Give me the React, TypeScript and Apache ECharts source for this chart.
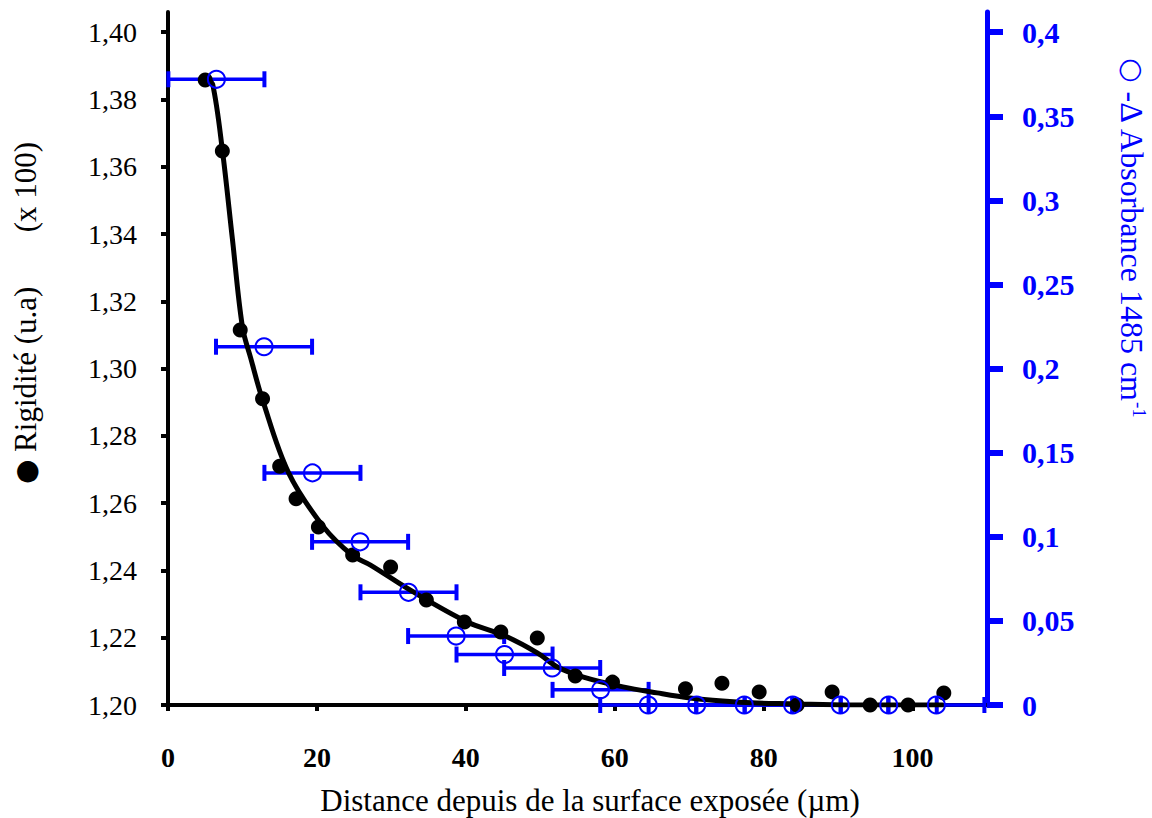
import React, { useEffect, useRef } from "react";
import * as echarts from "echarts";

// Rigidité (black dots), left axis
const rigX = [5.0, 7.3, 9.7, 12.7, 15.0, 17.2, 20.2, 24.8, 29.9, 34.7, 39.8, 44.7, 49.6, 54.7, 59.7, 69.5, 74.4, 79.4, 84.5, 89.2, 94.3, 99.4, 104.2];
const rigY = [1.3858, 1.3647, 1.3115, 1.291, 1.271, 1.2613, 1.2529, 1.2446, 1.241, 1.2312, 1.2247, 1.2217, 1.2199, 1.2086, 1.2068, 1.2048, 1.2065, 1.2039, 1.2, 1.2039, 1.2, 1.2, 1.2036];

// Fit curve (black line), left axis
const fitX = [5.3, 6.0, 7.3, 8.65, 10.0, 11.1, 12.7, 16.2, 20.9, 24.7, 27.2, 32.5, 40.2, 45.0, 49.6, 52.3, 55.8, 61.1, 65.7, 70.1, 74.5, 79.1, 83.5, 91.6, 104.0];
const fitY = [1.3858, 1.3845, 1.365, 1.3385, 1.3123, 1.3032, 1.2907, 1.269, 1.2529, 1.2446, 1.2416, 1.2342, 1.2247, 1.2208, 1.2155, 1.2113, 1.2083, 1.2054, 1.2036, 1.2021, 1.2012, 1.2006, 1.2004, 1.2, 1.2];

// -Δ Absorbance (blue open circles), right axis
const absX = [6.5, 12.9, 19.4, 25.8, 32.3, 38.7, 45.2, 51.6, 58.1, 64.5, 71.0, 77.4, 83.9, 90.3, 96.8, 103.2];
const absY = [0.372, 0.213, 0.138, 0.097, 0.067, 0.041, 0.030, 0.022, 0.009, 0, 0, 0, 0, 0, 0, 0];
const absXErr = [6.45, 6.45, 6.45, 6.45, 6.45, 6.45, 6.45, 6.45, 6.45, 6.45, 6.45, 6.45, 6.45, 6.45, 6.45, 6.45];

// Ticks
const xTicks = [0, 20, 40, 60, 80, 100];
const yLeftTicks = [1.2, 1.22, 1.24, 1.26, 1.28, 1.3, 1.32, 1.34, 1.36, 1.38, 1.4];
const yRightTicks = [0, 0.05, 0.1, 0.15, 0.2, 0.25, 0.3, 0.35, 0.4];

const BLUE = "#0000ff";
const FONT = "Liberation Serif";

export default function App() {
  const ref = useRef<HTMLDivElement>(null);
  useEffect(() => {
    document.body.style.margin = "0";
    const chart = echarts.init(ref.current!, null, { renderer: "svg" });
    const errData = absX.map((x, i) => [x, absY[i], Math.max(0, x - absXErr[i]), x + absXErr[i]]);
    chart.setOption({
      animation: false,
      backgroundColor: "#ffffff",
      grid: { left: 168, right: 165, top: 12, bottom: 113 },
      xAxis: {
        type: "value",
        min: 0,
        max: 110,
        splitLine: { show: false },
        axisLine: { onZero: false, lineStyle: { color: "#000", width: 4 } },
        axisTick: { customValues: xTicks, length: 6, lineStyle: { color: "#000", width: 4 } },
        axisLabel: {
          customValues: xTicks,
          margin: 38,
          color: "#000",
          fontFamily: FONT,
          fontWeight: "bold",
          fontSize: 28,
        },
      },
      yAxis: [
        {
          type: "value",
          position: "left",
          min: 1.2,
          max: 1.406,
          splitLine: { show: false },
          axisLine: { show: true, onZero: false, lineStyle: { color: "#000", width: 4 } },
          axisTick: { show: true, customValues: yLeftTicks, length: 7, lineStyle: { color: "#000", width: 4 } },
          axisLabel: {
            customValues: yLeftTicks,
            margin: 31,
            color: "#000",
            fontFamily: FONT,
            fontSize: 28,
            formatter: (v: number) => v.toFixed(2).replace(".", ","),
          },
        },
        {
          type: "value",
          position: "right",
          min: 0,
          max: 0.412,
          splitLine: { show: false },
          axisLine: { show: true, onZero: false, lineStyle: { color: BLUE, width: 5 } },
          axisTick: { show: true, customValues: yRightTicks, length: 16, lineStyle: { color: BLUE, width: 6 } },
          axisLabel: {
            customValues: yRightTicks,
            margin: 35,
            color: BLUE,
            fontFamily: FONT,
            fontWeight: "bold",
            fontSize: 30,
            formatter: (v: number) => String(Math.round(v * 100) / 100).replace(".", ","),
          },
        },
      ],
      series: [
        {
          type: "custom",
          xAxisIndex: 0,
          yAxisIndex: 1,
          data: errData,
          z: 2,
          silent: true,
          renderItem: (params: any, api: any) => {
            const y = api.value(1);
            const p1 = api.coord([api.value(2), y]);
            const p2 = api.coord([api.value(3), y]);
            const h = 8;
            const style = { stroke: BLUE, lineWidth: 3.5 };
            const capStyle = { stroke: BLUE, lineWidth: 4 };
            return {
              type: "group",
              children: [
                { type: "line", shape: { x1: p1[0], y1: p1[1], x2: p2[0], y2: p2[1] }, style },
                { type: "line", shape: { x1: p1[0], y1: p1[1] - h, x2: p1[0], y2: p1[1] + h }, style: capStyle },
                { type: "line", shape: { x1: p2[0], y1: p2[1] - h, x2: p2[0], y2: p2[1] + h }, style: capStyle },
              ],
            };
          },
        },
        {
          type: "line",
          xAxisIndex: 0,
          yAxisIndex: 0,
          data: fitX.map((x, i) => [x, fitY[i]]),
          smooth: 0.35,
          showSymbol: false,
          symbol: "none",
          z: 3,
          lineStyle: { color: "#000", width: 5, cap: "round", join: "round" },
        },
        {
          type: "scatter",
          xAxisIndex: 0,
          yAxisIndex: 0,
          data: rigX.map((x, i) => [x, rigY[i]]),
          symbol: "circle",
          symbolSize: 15,
          z: 4,
          itemStyle: { color: "#000", opacity: 1 },
        },
        {
          type: "scatter",
          xAxisIndex: 0,
          yAxisIndex: 1,
          data: absX.map((x, i) => [x, absY[i]]),
          symbol: "circle",
          symbolSize: 17,
          z: 5,
          itemStyle: { color: "rgba(255,255,255,0)", borderColor: BLUE, borderWidth: 2, opacity: 1 },
        },
      ],
      graphic: [
        {
          type: "text",
          x: 590,
          y: 800,
          style: {
            text: "Distance depuis de la surface exposée (µm)",
            fontFamily: FONT,
            fontSize: 31,
            fill: "#000",
            textAlign: "center",
            textVerticalAlign: "middle",
          },
        },
        {
          type: "text",
          x: 25,
          y: 313,
          rotation: Math.PI / 2,
          style: {
            text: "{dot|●} Rigidité (u.a)       (x 100)",
            fontFamily: FONT,
            fontSize: 31,
            fill: "#000",
            textAlign: "center",
            textVerticalAlign: "middle",
            rich: { dot: { fontSize: 28, fill: "#000", fontFamily: "DejaVu Sans" } },
          },
        },
        {
          type: "text",
          x: 1132,
          y: 238,
          rotation: -Math.PI / 2,
          style: {
            text: "{c|○} -Δ Absorbance 1485 cm{sup|-1}",
            fontFamily: FONT,
            fontSize: 32,
            fill: BLUE,
            textAlign: "center",
            textVerticalAlign: "middle",
            rich: {
              c: { fontSize: 28, fill: BLUE, fontFamily: "DejaVu Sans" },
              sup: { fontSize: 19, fill: BLUE, fontFamily: FONT, verticalAlign: "top", padding: [0, 0, 14, 0] },
            },
          },
        },
      ],
    });
    return () => chart.dispose();
  }, []);
  return <div ref={ref} style={{ position: "fixed", left: 0, top: 0, width: 1152, height: 818 }} />;
}
